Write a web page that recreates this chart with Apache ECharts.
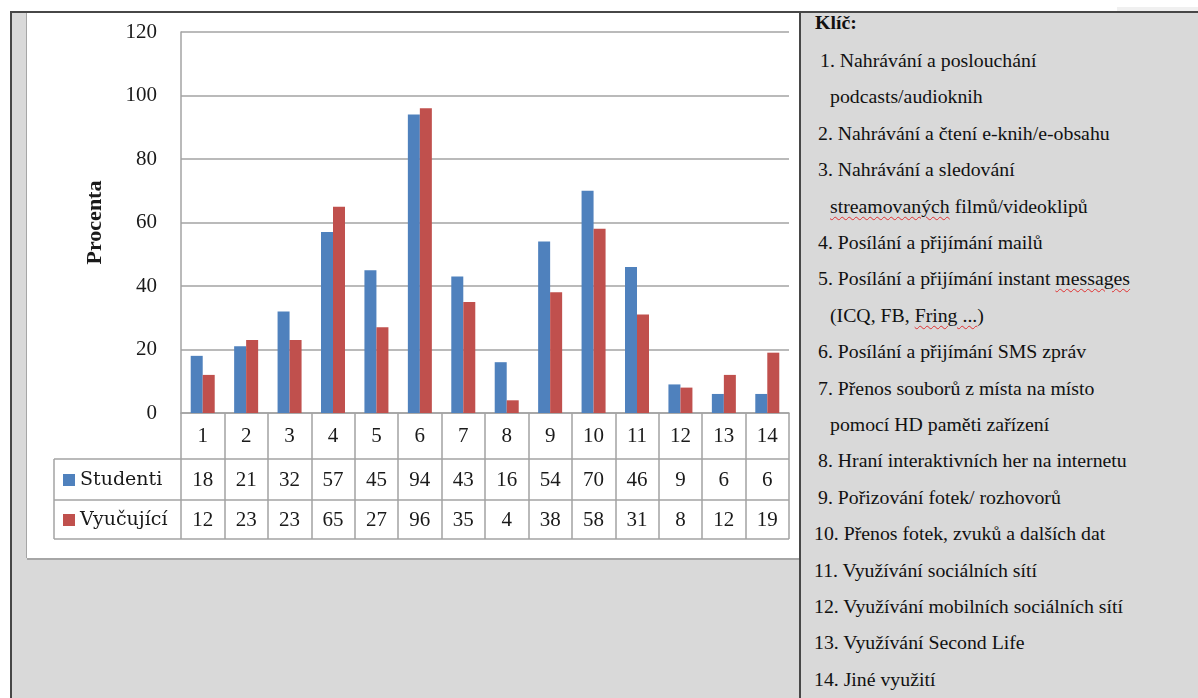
<!DOCTYPE html>
<html>
<head>
<meta charset="utf-8">
<script src="https://cdn.jsdelivr.net/npm/echarts@6/dist/echarts.min.js"></script>
<style>
  body { margin: 0; width: 1198px; height: 698px; background: #fff; position: relative; overflow: hidden; }
  .abs { position: absolute; }
  #topline { left: 10px; top: 11px; width: 1188px; height: 2px; background: #474747; }
  #leftline { left: 10px; top: 11px; width: 2px; height: 687px; background: #474747; }
  #gray { left: 12px; top: 13px; width: 1186px; height: 685px; background: #d9d9d9; }
  #corner { left: 1117px; top: 7px; width: 81px; height: 4px; background: #f0f0f0; }
  #divider { left: 799px; top: 13px; width: 2px; height: 685px; background: #474747; }
  #chart { left: 27px; top: 13px; width: 772px; height: 545px; background: #fff;
           box-shadow: -1px 0 0 #a6a6a6, 0 2px 0 #a6a6a6; }
  #key { left: 801px; top: 0; width: 397px; font-family: "Liberation Serif", serif; font-size: 19.8px; color: #111; }
  #key div { position: absolute; white-space: nowrap; line-height: 36px; }
  .wavy { text-decoration: underline wavy #e03030; text-decoration-thickness: 1px; text-underline-offset: 3px; }
</style>
</head>
<body>
<div id="gray" class="abs"></div>
<div id="corner" class="abs"></div>
<div id="topline" class="abs"></div>
<div id="leftline" class="abs"></div>
<div id="chart" class="abs"></div>
<div id="divider" class="abs"></div>
<div id="key" class="abs"></div>
<script>
// data
const categories = ['1', '2', '3', '4', '5', '6', '7', '8', '9', '10', '11', '12', '13', '14'];
const studenti = [18, 21, 32, 57, 45, 94, 43, 16, 54, 70, 46, 9, 6, 6];
const vyucujici = [12, 23, 23, 65, 27, 96, 35, 4, 38, 58, 31, 8, 12, 19];
const seriesNames = ['Studenti', 'Vyučující'];

// key lines: [text, indent]
const keyLines = [
  ['1. Nahrávání a poslouchání', 19],
  ['podcasts/audioknih', 29],
  ['2. Nahrávání a čtení e-knih/e-obsahu', 17],
  ['3. Nahrávání a sledování', 17],
  ['<span class="wavy">streamovaných</span> filmů/videoklipů', 29],
  ['4. Posílání a přijímání mailů', 17],
  ['5. Posílání a přijímání instant <span class="wavy">messages</span>', 17],
  ['(ICQ, FB, <span class="wavy">Fring ...</span>)', 29],
  ['6. Posílání a přijímání SMS zpráv', 17],
  ['7. Přenos souborů z místa na místo', 17],
  ['pomocí HD paměti zařízení', 29],
  ['8. Hraní interaktivních her na internetu', 17],
  ['9. Pořizování fotek/ rozhovorů', 17],
  ['10. Přenos fotek, zvuků a dalších dat', 13],
  ['11. Využívání sociálních sítí', 13],
  ['12. Využívání mobilních sociálních sítí', 13],
  ['13. Využívání Second Life', 13],
  ['14. Jiné využití', 13]
];

let key = document.getElementById('key');
let head = document.createElement('div');
head.style.left = '14px';
head.style.top = '4px';
head.style.fontWeight = 'bold';
head.textContent = 'Klíč:';
key.appendChild(head);
for (let i = 0; i < keyLines.length; i++) {
  let d = document.createElement('div');
  d.style.left = keyLines[i][1] + 'px';
  d.style.top = (42 + i * 36.4) + 'px';
  d.innerHTML = keyLines[i][0];
  key.appendChild(d);
}

let myChart = echarts.init(document.getElementById('chart'));
const font = 'Liberation Serif';
const legendFont = 'DejaVu Serif';
const gridColor = '#a3a3a3';
const textColor = '#1a1a1a';

function rowAxis(values, margin) {
  return {
    type: 'category',
    data: categories,
    position: 'bottom',
    axisLine: { show: false },
    axisTick: { show: false },
    axisLabel: {
      margin: margin,
      fontFamily: font,
      fontSize: 21,
      color: textColor,
      formatter: (v, i) => String(values[i])
    }
  };
}

let tableLine = (x1, y1, x2, y2) => ({
  type: 'line',
  shape: { x1: x1, y1: y1, x2: x2, y2: y2 },
  style: { stroke: gridColor, lineWidth: 1.5 }
});

let option = {
  animation: false,
  grid: { left: 154, top: 19, width: 608, height: 381 },
  legend: {
    orient: 'vertical',
    left: 36,
    top: 457,
    padding: 0,
    itemGap: 20,
    itemWidth: 12,
    itemHeight: 12,
    icon: 'rect',
    data: seriesNames,
    textStyle: { fontFamily: legendFont, fontSize: 19, color: textColor, lineHeight: 20 }
  },
  xAxis: [
    {
      type: 'category',
      data: categories,
      axisLine: { show: true, lineStyle: { color: gridColor, width: 1.5 } },
      axisTick: { show: true, alignWithLabel: false, length: 126, lineStyle: { color: gridColor, width: 1.5 } },
      axisLabel: { margin: 13, fontFamily: font, fontSize: 21, color: textColor }
    },
    rowAxis(studenti, 57),
    rowAxis(vyucujici, 97)
  ],
  yAxis: {
    type: 'value',
    min: 0,
    max: 120,
    interval: 20,
    name: 'Procenta',
    nameLocation: 'middle',
    nameGap: 75,
    nameTextStyle: { fontFamily: font, fontSize: 22, fontWeight: 'bold', color: textColor },
    axisLine: { show: true, lineStyle: { color: gridColor, width: 1.5 } },
    axisTick: { show: false },
    splitLine: { lineStyle: { color: gridColor, width: 1.5 } },
    axisLabel: { margin: 24, fontFamily: font, fontSize: 21, color: textColor }
  },
  graphic: [
    tableLine(27, 446, 762, 446),
    tableLine(27, 487, 762, 487),
    tableLine(27, 526, 762, 526),
    tableLine(27, 446, 27, 526)
  ],
  series: [
    {
      name: seriesNames[0],
      type: 'bar',
      data: studenti,
      barWidth: 12,
      barGap: '0%',
      itemStyle: { color: '#4f81bd' }
    },
    {
      name: seriesNames[1],
      type: 'bar',
      data: vyucujici,
      barWidth: 12,
      itemStyle: { color: '#c0504d' }
    }
  ]
};
myChart.setOption(option);
</script>
</body>
</html>
